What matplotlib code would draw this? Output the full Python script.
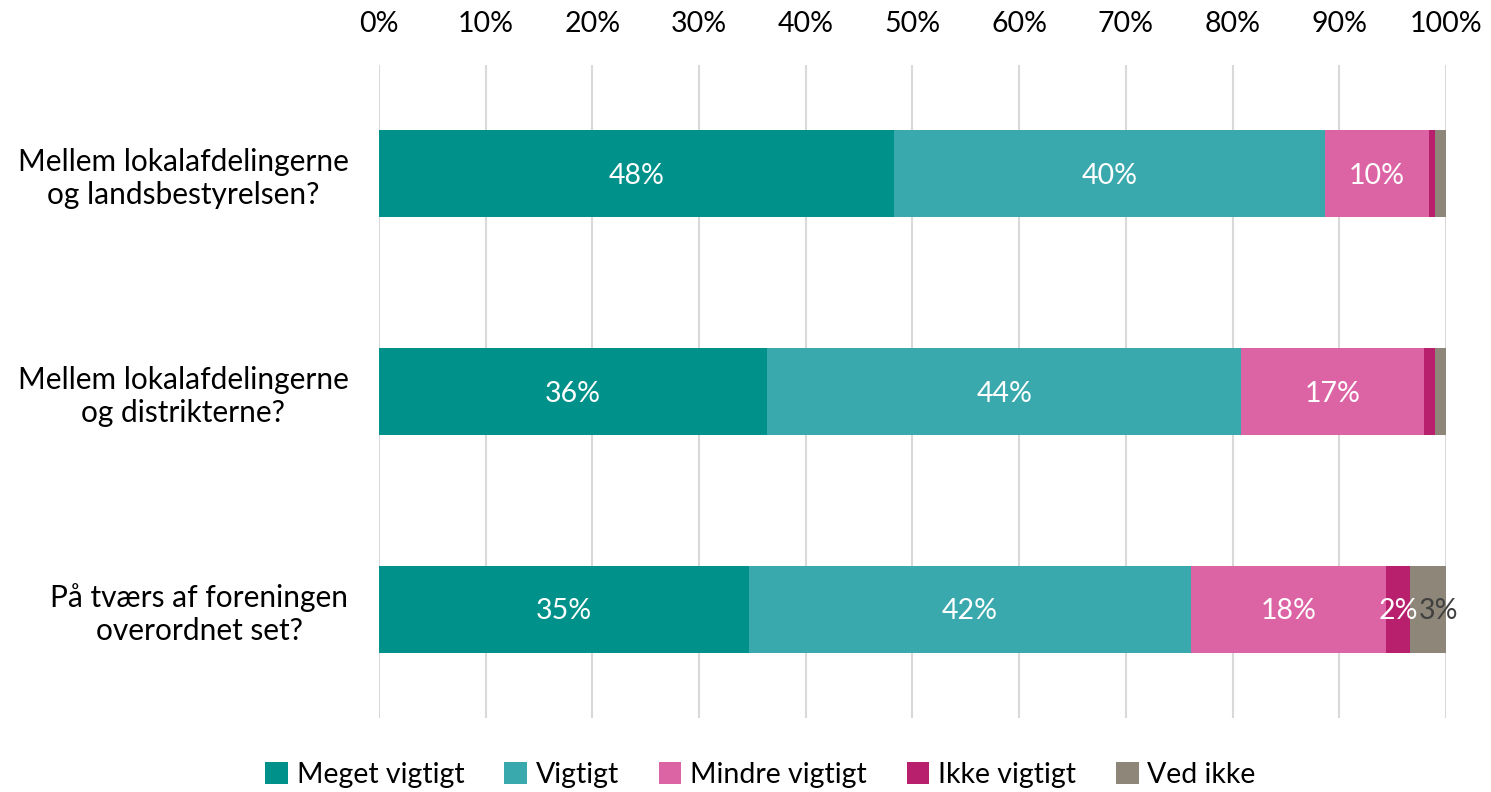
import matplotlib.pyplot as plt
import numpy as np
from matplotlib.ticker import PercentFormatter

plt.rcParams['font.family'] = ['Lato', 'DejaVu Sans']

# Data (percent)
categories = ['Mellem lokalafdelingerne\nog landsbestyrelsen?',
              'Mellem lokalafdelingerne\nog distrikterne?',
              'På tværs af foreningen\noverordnet set?']
series = ['Meget vigtigt', 'Vigtigt', 'Mindre vigtigt', 'Ikke vigtigt', 'Ved ikke']
meget = [48.3, 36.4, 34.7]
vigtigt = [40.4, 44.4, 41.4]
mindre = [9.7, 17.1, 18.3]
ikke = [0.6, 1.1, 2.2]
ved_ikke = [1.0, 1.0, 3.4]
label_text = [['48%', '40%', '10%', '', ''],
              ['36%', '44%', '17%', '', ''],
              ['35%', '42%', '18%', '2%', '3%']]

colors = ['#00918A', '#3AA9AE', '#DC64A4', '#B8206E', '#8E8779']
text_colors = ['white', 'white', 'white', 'white', '#404040']
# small nudge (in % units) for the last label, which sits slightly right in the original
label_nudge = [0, 0, 0, 0, 1.0]

fig = plt.figure(figsize=(14.91, 7.92), dpi=100)
ax = fig.add_axes([0.2542, 0.0934, 0.7156, 0.8245])

values = np.array([meget, vigtigt, mindre, ikke, ved_ikke])
y = np.arange(len(categories))
left = np.zeros(len(categories))
for i, name in enumerate(series):
    ax.barh(y, values[i], left=left, height=0.4, color=colors[i], label=name, zorder=3)
    for j in range(len(categories)):
        txt = label_text[j][i]
        if txt:
            ax.text(left[j] + values[i][j] / 2 + label_nudge[i], y[j] + 0.01, txt,
                    ha='center', va='center', color=text_colors[i], fontsize=20.5,
                    zorder=4)
    left += values[i]

ax.set_xlim(0, 100)
ax.set_ylim(2.5, -0.5)
ax.set_xticks(np.arange(0, 101, 10))
ax.xaxis.set_major_formatter(PercentFormatter(decimals=0))
ax.xaxis.tick_top()
ax.tick_params(axis='x', length=0, pad=20, labelsize=20.5)
ax.tick_params(axis='y', length=0, pad=22, labelsize=21.5)
ax.set_yticks(y)
ax.set_yticklabels(categories, multialignment='center')
ax.grid(axis='x', color='#D9D9D9', linewidth=1.5, zorder=0)
for s in ax.spines.values():
    s.set_visible(False)

handles, labels = ax.get_legend_handles_labels()
fig.legend(handles, labels, loc='center', bbox_to_anchor=(0.51, 0.022), ncol=5,
           frameon=False, fontsize=20.5, handlelength=0.8, handleheight=0.8,
           handletextpad=0.3, columnspacing=1.4)

fig.savefig('out.png', dpi=100)
